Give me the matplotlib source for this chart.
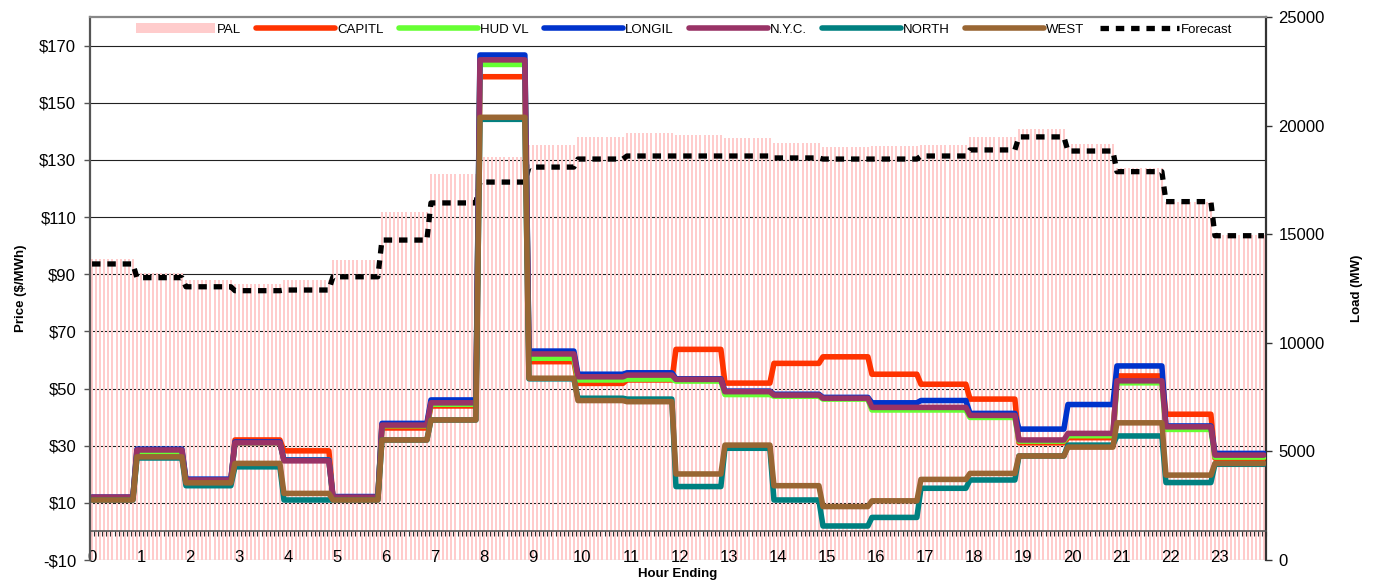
import numpy as np
import matplotlib
matplotlib.use("Agg")
import matplotlib.pyplot as plt
from matplotlib.patches import Patch
from matplotlib.transforms import blended_transform_factory
from matplotlib.ticker import FuncFormatter, FixedLocator

plt.rcParams['font.family'] = ['Liberation Sans', 'DejaVu Sans']

hours = list(range(24))
hour_labels = [str(h) for h in hours]

pal_load = [13850, 13200, 12890, 12710, 12890, 13810, 16020, 17770, 18550, 19100,
            19490, 19660, 19570, 19430, 19200, 19010, 19060, 19100, 19470, 19840,
            19140, 18030, 16500, 14960]
forecast = [13630, 13000, 12580, 12400, 12430, 13040, 14730, 16440, 17400, 18090,
            18460, 18600, 18600, 18600, 18510, 18460, 18460, 18600, 18880, 19480,
            18830, 17880, 16500, 14930]

capitl = [11.8, 27.4, 17.5, 32.0, 28.2, 12.0, 36.2, 43.9, 159.1, 59.4, 51.8, 53.0,
          63.7, 51.9, 58.8, 61.1, 55.0, 51.5, 46.3, 31.0, 32.8, 54.4, 41.0, 25.6]
hud_vl = [11.5, 27.8, 17.8, 31.0, 25.0, 11.8, 37.0, 44.5, 163.4, 60.6, 53.0, 53.3,
          52.6, 47.9, 47.3, 46.3, 42.5, 42.5, 39.9, 31.6, 33.5, 52.0, 35.7, 26.0]
longil = [12.0, 28.8, 18.3, 31.3, 25.0, 12.2, 37.8, 46.0, 166.7, 63.1, 55.0, 55.5,
          53.4, 49.1, 48.0, 46.9, 45.0, 45.8, 41.3, 35.8, 44.4, 57.9, 36.9, 27.3]
nyc = [12.0, 28.5, 18.0, 31.0, 24.7, 12.0, 37.2, 45.0, 165.0, 62.1, 54.1, 54.7,
       53.2, 48.9, 47.7, 46.6, 43.4, 43.4, 40.6, 32.0, 34.3, 52.7, 36.6, 26.7]
north = [11.0, 25.7, 16.0, 22.6, 11.0, 11.0, 32.0, 39.0, 144.2, 53.4, 46.6, 46.3,
         15.7, 29.1, 11.0, 1.9, 4.9, 15.1, 18.0, 26.4, 30.2, 33.4, 17.1, 23.5]
west = [11.0, 26.1, 17.0, 23.8, 13.3, 11.0, 32.0, 39.0, 144.9, 53.6, 45.8, 45.4,
        20.1, 30.2, 16.0, 8.7, 10.7, 18.2, 20.3, 26.4, 29.5, 38.0, 19.7, 23.8]

series_names = ["CAPITL", "HUD VL", "LONGIL", "N.Y.C.", "NORTH", "WEST"]
series_vals = [capitl, hud_vl, longil, nyc, north, west]
series_colors = ["#FF3300", "#66FF33", "#0033CC", "#993366", "#008080", "#996633"]

# 5-minute intervals (12 per hour)
n5 = 288
x5 = np.arange(n5) / 12.0
idx = np.minimum((np.arange(n5) + 1) // 12, 23)

def expand(v):
    return np.asarray(v, dtype=float)[idx]

W, H = 1376, 583
fig = plt.figure(figsize=(W / 100, H / 100), dpi=100)
L, R, T, B = 90, 1266, 17, 560
ax = fig.add_axes([L / W, 1 - B / H, (R - L) / W, (B - T) / H])
axl = ax.twinx()
ax.set_zorder(axl.get_zorder() + 1)
ax.patch.set_visible(False)

xmin, xmax = -1 / 24, n5 / 12 - 1 / 24
ax.set_xlim(xmin, xmax)
ax.set_ylim(-10, 180)
axl.set_ylim(0, 25000)

price_ticks = np.arange(-10, 171, 20)

# grid lines behind the load bars
trans = blended_transform_factory(axl.transAxes, ax.transData)
for p in price_ticks:
    axl.plot([0, 1], [p, p], transform=trans, color="#222222", lw=0.8, zorder=0.5)

axl.bar(x5, expand(pal_load), width=0.5 / 12, color="#FFCCCC", linewidth=0,
        zorder=1, label="PAL")
fl, = axl.plot(x5, expand(forecast), color="black", lw=3.8, zorder=2,
               dashes=(1.6, 1.3), dash_capstyle="butt", label="Forecast")

line_handles = []
for name, vals, col in zip(series_names, series_vals, series_colors):
    h, = ax.plot(x5, expand(vals), color=col, lw=4.0, solid_joinstyle="round",
                 solid_capstyle="round", label=name)
    line_handles.append(h)

# axes styling
ax.spines["bottom"].set_position(("data", 0))
ax.spines["bottom"].set_color("#555555")
ax.spines["bottom"].set_linewidth(1.2)
ax.spines["left"].set_color("#555555")
ax.spines["left"].set_linewidth(1.6)
ax.spines["top"].set_color("#888888")
ax.spines["top"].set_linewidth(1.6)
ax.spines["right"].set_visible(False)
for s in ["left", "top", "bottom"]:
    axl.spines[s].set_visible(False)
axl.spines["right"].set_color("#333333")
axl.spines["right"].set_linewidth(1.6)

ax.xaxis.set_major_locator(FixedLocator(hours))
ax.set_xticklabels(hour_labels)
ax.xaxis.set_minor_locator(FixedLocator(np.arange(n5 + 1) / 12 - 1 / 24))
ax.tick_params(axis="x", which="major", length=0, pad=13.5, labelsize=12)
ax.tick_params(axis="x", which="minor", length=3.6, width=0.8, color="#333333",
               direction="out")

ax.set_yticks(price_ticks)
ax.yaxis.set_major_formatter(FuncFormatter(
    lambda v, p: (f"-${abs(v):.0f}" if v < 0 else f"${v:.0f}")))
ax.tick_params(axis="y", which="major", length=4, width=1, color="#555555",
               labelsize=12, pad=6)

axl.set_yticks(np.arange(0, 25001, 5000))
axl.tick_params(axis="y", which="major", length=4, width=1, color="#333333",
                labelsize=12, pad=5)

ax.set_ylabel("Price ($/MWh)", fontsize=9.5, fontweight="bold", labelpad=9)
axl.set_ylabel("Load (MW)", fontsize=9.5, fontweight="bold", labelpad=19)
ax.set_xlabel("Hour Ending", fontsize=9.5, fontweight="bold", labelpad=2)

handles = [Patch(facecolor="#FFCCCC", edgecolor="none", label="PAL")] + line_handles + [fl]
leg = ax.legend(handles=handles, loc="center", bbox_to_anchor=(0.505, 0.977),
                ncol=8, frameon=False, fontsize=9.5, handlelength=6.0,
                handletextpad=0.15, columnspacing=1.15, borderaxespad=0)

fig.savefig("out.png", dpi=100)
